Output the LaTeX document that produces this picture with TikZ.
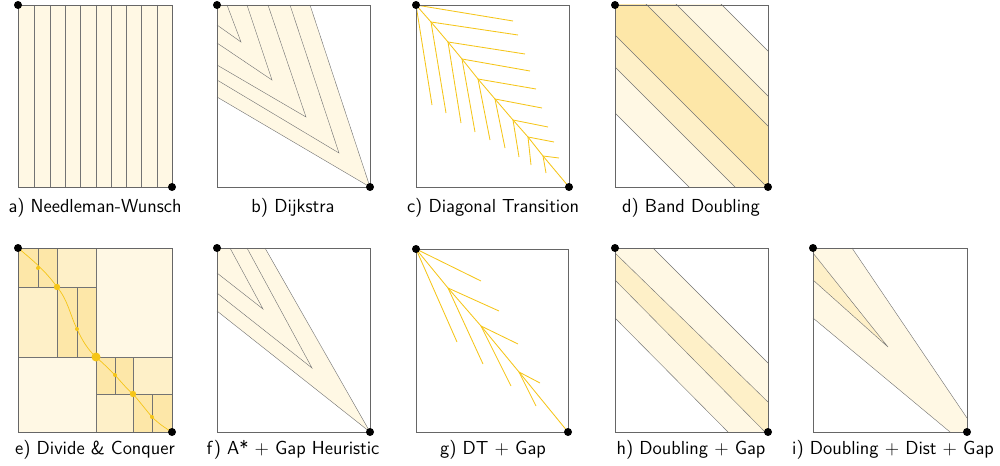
\documentclass[tikz,border=0pt]{standalone}
\usepackage{tikz}
\definecolor{lite}{HTML}{FFF8E4}
\definecolor{midc}{HTML}{FEF0C8}
\definecolor{dark}{HTML}{FDE7A8}
\definecolor{gold}{HTML}{F5C518}
\tikzset{
  frame/.style={draw=black!60, line width=0.6pt},
  thin/.style={draw=black!55, line width=0.3pt},
  ray/.style={draw=gold, line width=0.6pt},
  caption/.style={font=\sffamily\fontsize{13.4}{15}\selectfont, anchor=base},
}
\newcommand{\cornerdots}[4]{\fill (#1,#2) circle (4); \fill (#3,#4) circle (4);}
\newcommand{\band}[3]{\fill[#1] (415,-195+#2) -- (1015,405+#2) -- (1015,405+#3) -- (415,-195+#3) -- cycle;}
\begin{document}
\begin{tikzpicture}[x=0.025cm, y=-0.025cm]
\useasboundingbox (0,0) rectangle (1000,466);

% a) Needleman-Wunsch
\fill[lite] (18,5) rectangle (172,187);
\foreach \x in {34,50,65,80,96,111,126,141,157} \draw[thin] (\x,5) -- (\x,187);
\draw[frame] (18,5) rectangle (172,187);
\cornerdots{18}{5}{172}{187}
\node[caption] (capa) at (95,212) {a) Needleman-Wunsch};

% b) Dijkstra
\fill[lite] (217,5) -- (310,5) -- (370,187) -- (217,97) -- cycle;
\draw[thin] (217,25) -- (241,42) -- (227,5);
\draw[thin] (217,43) -- (272,80) -- (247,5);
\draw[thin] (217,65) -- (306,117) -- (268,5);
\draw[thin] (217,80) -- (339,153) -- (290,5);
\draw[thin] (217,97) -- (370,187) -- (310,5);
\draw[frame] (217,5) rectangle (370,187);
\cornerdots{217}{5}{370}{187}
\node[caption] (capb) at (293,212) {b) Dijkstra};

% c) Diagonal Transition
\draw[ray] (416,5) -- (431,22) -- (448,42) -- (462,59) -- (478,79) -- (495,99) -- (513,120) -- (528,137) -- (543,156) -- (569,187);
\foreach \ax/\ay/\bx/\by/\cx/\cy in {416/5/513/21/432/105, 431/22/518/35/446/113, 448/42/525/54/461/123,
  462/59/530/71/475/132, 478/79/536/89/490/140, 495/99/542/108/505/148, 513/120/548/127/519/157,
  528/137/554/142/531/165, 543/156/559/158/546/173}
  \draw[ray] (\bx,\by) -- (\ax,\ay) -- (\cx,\cy);
\draw[frame] (416,5) rectangle (569,187);
\cornerdots{416}{5}{569}{187}
\node[caption] (capc) at (493,212) {c) Diagonal Transition};

% d) Band Doubling
\begin{scope}
\clip (615,5) rectangle (768,187);
\band{lite}{-107}{108}
\band{midc}{-62}{62}
\band{dark}{-32}{30}
\foreach \c in {-107,-62,-32,30,62,108} \draw[thin] (415,-195+\c) -- (1015,405+\c);
\end{scope}
\draw[frame] (615,5) rectangle (768,187);
\cornerdots{615}{5}{768}{187}
\node[caption] (capd) at (691,212) {d) Band Doubling};

% e) Divide & Conquer
\fill[lite] (18,248) rectangle (172,432);
\fill[midc] (18,248) rectangle (96,357);
\fill[midc] (96,357) rectangle (172,432);
\fill[dark] (18,248) rectangle (57,287);
\fill[dark] (57,287) rectangle (96,357);
\fill[dark] (96,357) rectangle (133,394);
\fill[dark] (133,394) rectangle (172,432);
\draw[thin] (18,357) -- (172,357) (96,248) -- (96,432);
\draw[thin] (18,287) -- (96,287) (57,248) -- (57,357) (38,248) -- (38,287) (77,287) -- (77,357);
\draw[thin] (96,394) -- (172,394) (133,357) -- (133,432) (115,357) -- (115,394) (152,394) -- (152,432);
\draw[gold, line width=0.5pt] (18,248) .. controls (30,258) and (45,270) .. (57,287)
  .. controls (68,300) and (70,315) .. (77,329) .. controls (82,340) and (88,350) .. (96,357)
  .. controls (105,365) and (110,370) .. (115,375) .. controls (122,383) and (128,390) .. (133,394)
  .. controls (140,402) and (146,410) .. (152,417) .. controls (158,423) and (165,428) .. (172,432);
\fill[gold] (96,357) circle (4.5) (57,287) circle (3.2) (133,394) circle (3.2)
  (38,268) circle (2) (77,329) circle (2) (115,375) circle (2) (152,417) circle (2);
\draw[frame] (18,248) rectangle (172,432);
\cornerdots{18}{248}{172}{432}
\node[caption] (cape) at (95,454) {e) Divide \& Conquer};

% f) A* + Gap Heuristic
\fill[lite] (217,248) -- (265,248) -- (370,432) -- (217,311) -- cycle;
\draw[thin] (217,273) -- (263,309) -- (230,248);
\draw[thin] (217,293) -- (312,368) -- (247,248);
\draw[thin] (217,311) -- (370,432) -- (265,248);
\draw[frame] (217,248) rectangle (370,432);
\cornerdots{217}{248}{370}{432}
\node[caption] (capf) at (293,454) {f) A* + Gap Heuristic};

% g) DT + Gap
\draw[ray] (416,249) -- (448,288) -- (481,326) -- (519,372) -- (568,432);
\foreach \ax/\ay/\bx/\by/\cx/\cy in {416/249/481/281/457/342, 448/288/499/311/483/364,
  481/326/518/344/511/386, 519/372/540/383/536/406}
  \draw[ray] (\bx,\by) -- (\ax,\ay) -- (\cx,\cy);
\draw[frame] (416,249) rectangle (568,432);
\cornerdots{416}{249}{568}{432}
\node[caption] (capg) at (493,454) {g) DT + Gap};

% h) Doubling + Gap
\fill[lite] (653,248) -- (768,363) -- (768,432) -- (728,432) -- (615,318) -- (615,248) -- cycle;
\fill[midc] (615,253) -- (768,402) -- (768,432) -- (765,432) -- (615,280) -- cycle;
\draw[thin] (653,248) -- (768,363);
\draw[thin] (615,253) -- (768,402);
\draw[thin] (615,280) -- (765,432);
\draw[thin] (615,318) -- (728,432);
\draw[frame] (615,248) rectangle (768,432);
\cornerdots{615}{248}{768}{432}
\node[caption] (caph) at (691,454) {h) Doubling + Gap};

% i) Doubling + Dist + Gap
\fill[lite] (813,248) -- (852,248) -- (967,418) -- (967,432) -- (950,432) -- (813,318) -- cycle;
\fill[midc] (813,253) -- (888,347) -- (813,280) -- cycle;
\draw[thin] (813,253) -- (888,347) -- (813,280);
\draw[thin] (852,248) -- (967,418);
\draw[thin] (813,318) -- (950,432);
\draw[frame] (813,248) rectangle (967,432);
\cornerdots{813}{248}{967}{432}
\node[caption] (capi) at (893,454) {i) Doubling + Dist + Gap};
\end{tikzpicture}
\end{document}
